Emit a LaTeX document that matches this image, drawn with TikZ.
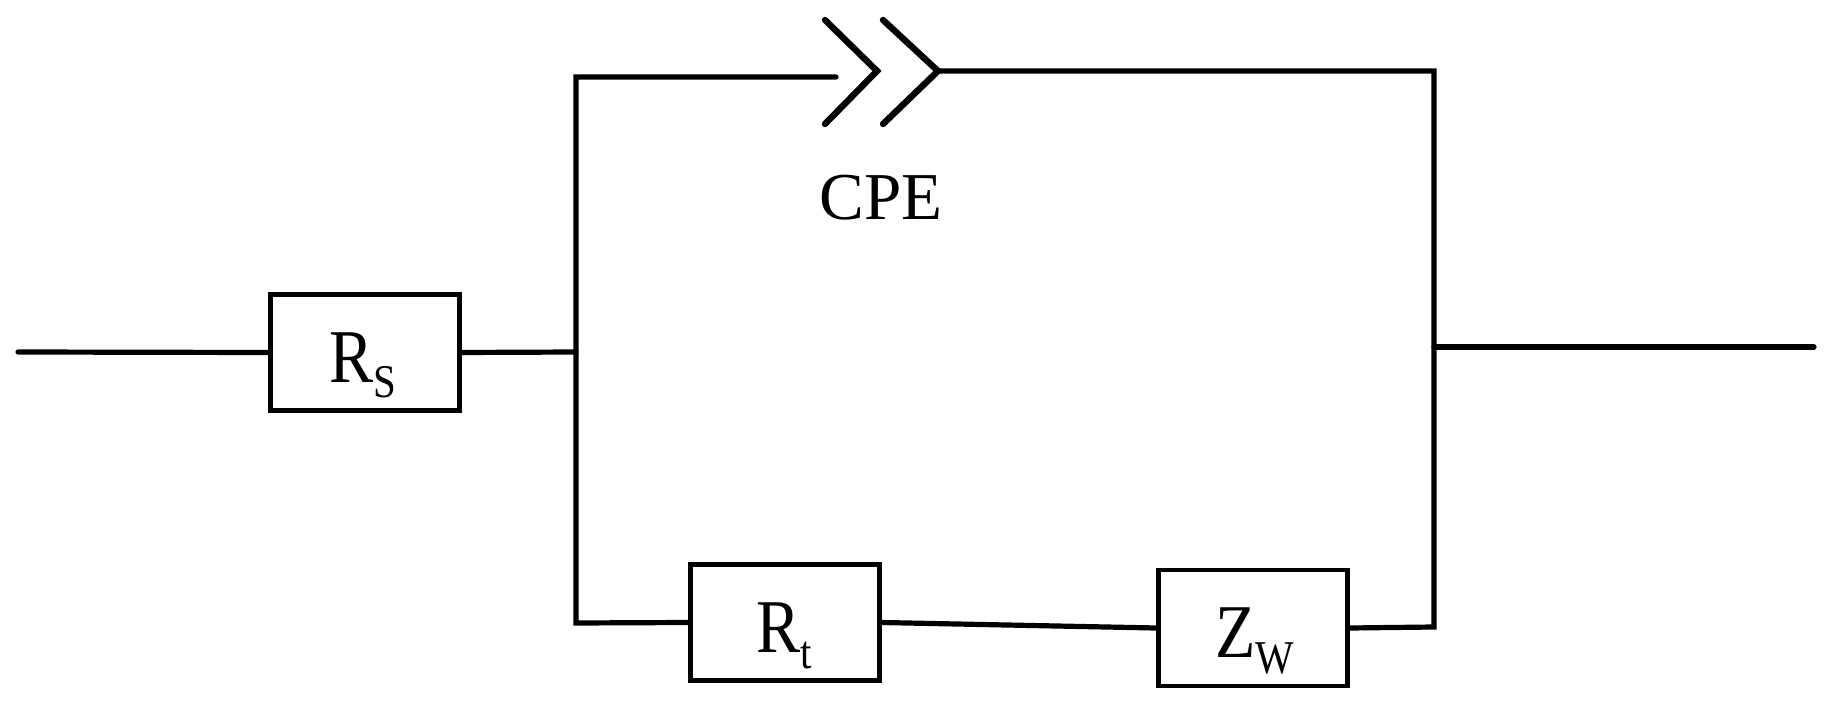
\documentclass[tikz,border=0pt]{standalone}
\usepackage{fontspec}
\setmainfont{Liberation Serif}
\tikzset{
  wire/.style={line width=5.2pt,black,line cap=round,line join=miter},
  chevron/.style={wire,line width=6.4pt},
  boxnode/.style={draw=black,line width=4.8pt,minimum width=189pt,minimum height=116pt,inner sep=0pt,fill=white},
  boxlabel/.style={inner sep=0pt,anchor=base,font=\fontsize{76}{80}\selectfont},
}
\newcommand{\lbl}[2]{\scalebox{0.87}[1]{#1\raisebox{-16pt}{\fontsize{47}{50}\selectfont #2}}}
\begin{document}
\begin{tikzpicture}[x=1pt,y=-1pt]
\useasboundingbox (0,0) rectangle (1832,703);
\coordinate (in) at (18,352);
\coordinate (out) at (1814,347);
\coordinate (jl) at (576,352);
\coordinate (jr) at (1434,347);
\coordinate (tl) at (576,77);
\coordinate (tr) at (1434,71);
\coordinate (bl) at (576,623);
\coordinate (br) at (1434,627);
\coordinate (cpea) at (836,77);
\coordinate (cpeb) at (938,71);
\node[boxnode] (rs) at (365,352.5) {};
\node[boxnode] (rt) at (785,622.5) {};
\node[boxnode] (zw) at (1253,628) {};
\node[boxlabel] (rslabel) at (363,382) {\lbl{R}{S}};
\node[boxlabel] (rtlabel) at (784,652) {\lbl{R}{t}};
\node[boxlabel] (zwlabel) at (1255,657) {\lbl{Z}{W}};
\node[font=\fontsize{67}{74}\selectfont] (cpe) at (881,198) {CPE};
\draw[wire] (in) -- (rs.west);
\draw[wire] (rs.east) -- (jl);
\draw[wire] (cpea) -- (tl) -- (bl) -- (rt.west);
\draw[wire] (rt.east) -- (zw.west);
\draw[wire] (zw.east) -- (br) -- (tr) -- (cpeb);
\draw[wire] (jr) -- (out);
\draw[chevron] (825,20) -- (877,71) -- (825,124);
\draw[chevron] (883,20) -- (938,71) -- (883,124);
\end{tikzpicture}
\end{document}
